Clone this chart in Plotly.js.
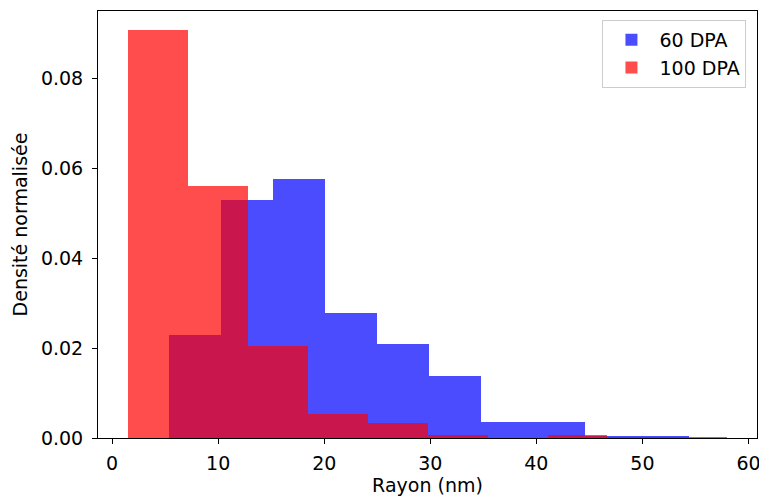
<!DOCTYPE html>
<html>
<head>
<meta charset="utf-8">
<script src="https://cdn.plot.ly/plotly-3.0.1.min.js"></script>
<style>html,body{margin:0;padding:0;background:#fff;}#chart{width:759px;height:499px;}</style>
</head>
<body>
<div id="chart"></div>
<script>
// Bin edges (nm) and normalised densities
const edges60 = [5.41, 10.3, 15.2, 20.1, 25.0, 29.9, 34.8, 39.7, 44.6, 49.5, 54.35];
const density60 = [0.0230, 0.0529, 0.0576, 0.0278, 0.0208, 0.01385, 0.0035, 0.0035, 0.0005, 0.0005];
const edges100 = [1.5, 7.15, 12.8, 18.45, 24.1, 29.75, 35.4, 41.05, 46.7, 52.35, 58.0];
const density100 = [0.0907, 0.0561, 0.0204, 0.0054, 0.0033, 0.0007, 0, 0.0007, 0.0003, 0.0003];
const seriesNames = ["60 DPA", "100 DPA"];
const xTicks = [0, 10, 20, 30, 40, 50, 60];
const yTicks = [0, 0.02, 0.04, 0.06, 0.08];

function centers(e){ const c=[]; for(let i=0;i<e.length-1;i++) c.push((e[i]+e[i+1])/2); return c; }
function widths(e){ const w=[]; for(let i=0;i<e.length-1;i++) w.push(e[i+1]-e[i]); return w; }

const font = "DejaVu Sans, sans-serif";
const fs = 19;
const traces = [
  {type:'bar', name:seriesNames[0], x:centers(edges60), y:density60, width:widths(edges60),
   marker:{color:'rgba(0,0,255,0.7)', line:{width:0}}},
  {type:'bar', name:seriesNames[1], x:centers(edges100), y:density100, width:widths(edges100),
   marker:{color:'rgba(255,0,0,0.7)', line:{width:0}}}
];
const layout = {
  width:759, height:499,
  margin:{l:98, r:2, t:11, b:61, pad:0},
  paper_bgcolor:'#fff', plot_bgcolor:'#fff',
  barmode:'overlay', bargap:0,
  font:{family:font, size:fs, color:'#000'},
  xaxis:{range:[-1.33, 60.8], tickvals:xTicks, ticktext:xTicks.map(String),
    showgrid:false, zeroline:false, showline:true, mirror:true, linecolor:'#000', linewidth:1,
    ticks:'outside', ticklen:5, tickcolor:'#000', tickfont:{size:fs},
    ticklabelstandoff:3, ticklabeloverflow:'allow',
    title:{text:'Rayon (nm)', font:{size:fs}, standoff:5}},
  yaxis:{range:[0, 0.0949], tickvals:yTicks, ticktext:yTicks.map(v=>v.toFixed(2)),
    showgrid:false, zeroline:false, showline:true, mirror:true, linecolor:'#000', linewidth:1,
    ticks:'outside', ticklen:5, tickcolor:'#000', tickfont:{size:fs},
    ticklabelstandoff:5,
    title:{text:'Densité normalisée', font:{size:fs}, standoff:8}},
  showlegend:true,
  legend:{x:0.984, xanchor:'right', y:0.979, yanchor:'top', bgcolor:'rgba(255,255,255,0.8)',
    bordercolor:'#cccccc', borderwidth:1, font:{size:fs}, traceorder:'normal', itemwidth:46}
};
Plotly.newPlot('chart', traces, layout, {staticPlot:true, displayModeBar:false});
</script>
</body>
</html>
